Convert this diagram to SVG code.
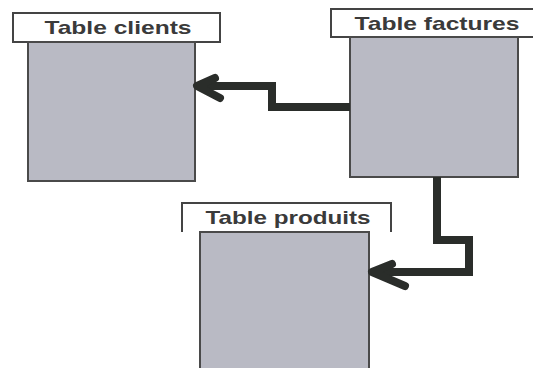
<svg xmlns="http://www.w3.org/2000/svg" width="533" height="368" viewBox="0 0 533 368">
<style>
.hdr{fill:#fff;stroke:#444;stroke-width:2}
.body{fill:#b9bac4;stroke:#4a4a4a;stroke-width:2}
.lbl{font-family:"Liberation Sans",Arial,sans-serif;font-weight:bold;font-size:19px;fill:#3a3a3a;text-anchor:middle}
.conn{fill:none;stroke:#2a2d2a;stroke-width:8;stroke-linejoin:miter}
.head{fill:none;stroke:#2a2d2a;stroke-width:8;stroke-linecap:round;stroke-linejoin:round}
</style>
<rect width="533" height="368" fill="#fff"/>
<g id="clients">
<rect class="hdr" x="13" y="13" width="207" height="29"/>
<rect class="body" x="28" y="42" width="167" height="139"/>
<text class="lbl" x="118" y="34" textLength="147" lengthAdjust="spacingAndGlyphs">Table clients</text>
</g>
<g id="factures">
<rect class="hdr" x="331" y="9" width="210" height="28"/>
<rect class="body" x="350" y="37" width="168" height="140"/>
<text class="lbl" x="437" y="30" textLength="165" lengthAdjust="spacingAndGlyphs">Table factures</text>
</g>
<g id="produits">
<path d="M182,232 V203 H391 V232" fill="#fff" stroke="#444" stroke-width="2"/>
<rect class="body" x="200" y="232" width="169" height="140"/>
<text class="lbl" x="288" y="224" textLength="165" lengthAdjust="spacingAndGlyphs">Table produits</text>
</g>
<g id="connectors">
<path class="conn" d="M350,107 H272 V86 H198" />
<path class="head" d="M215,78 L197,86 L220,98" />
<path class="conn" d="M437,177 V240 H469 V272 H372" />
<path class="head" d="M392,264 L372,272 L405,286" />
</g>
</svg>
